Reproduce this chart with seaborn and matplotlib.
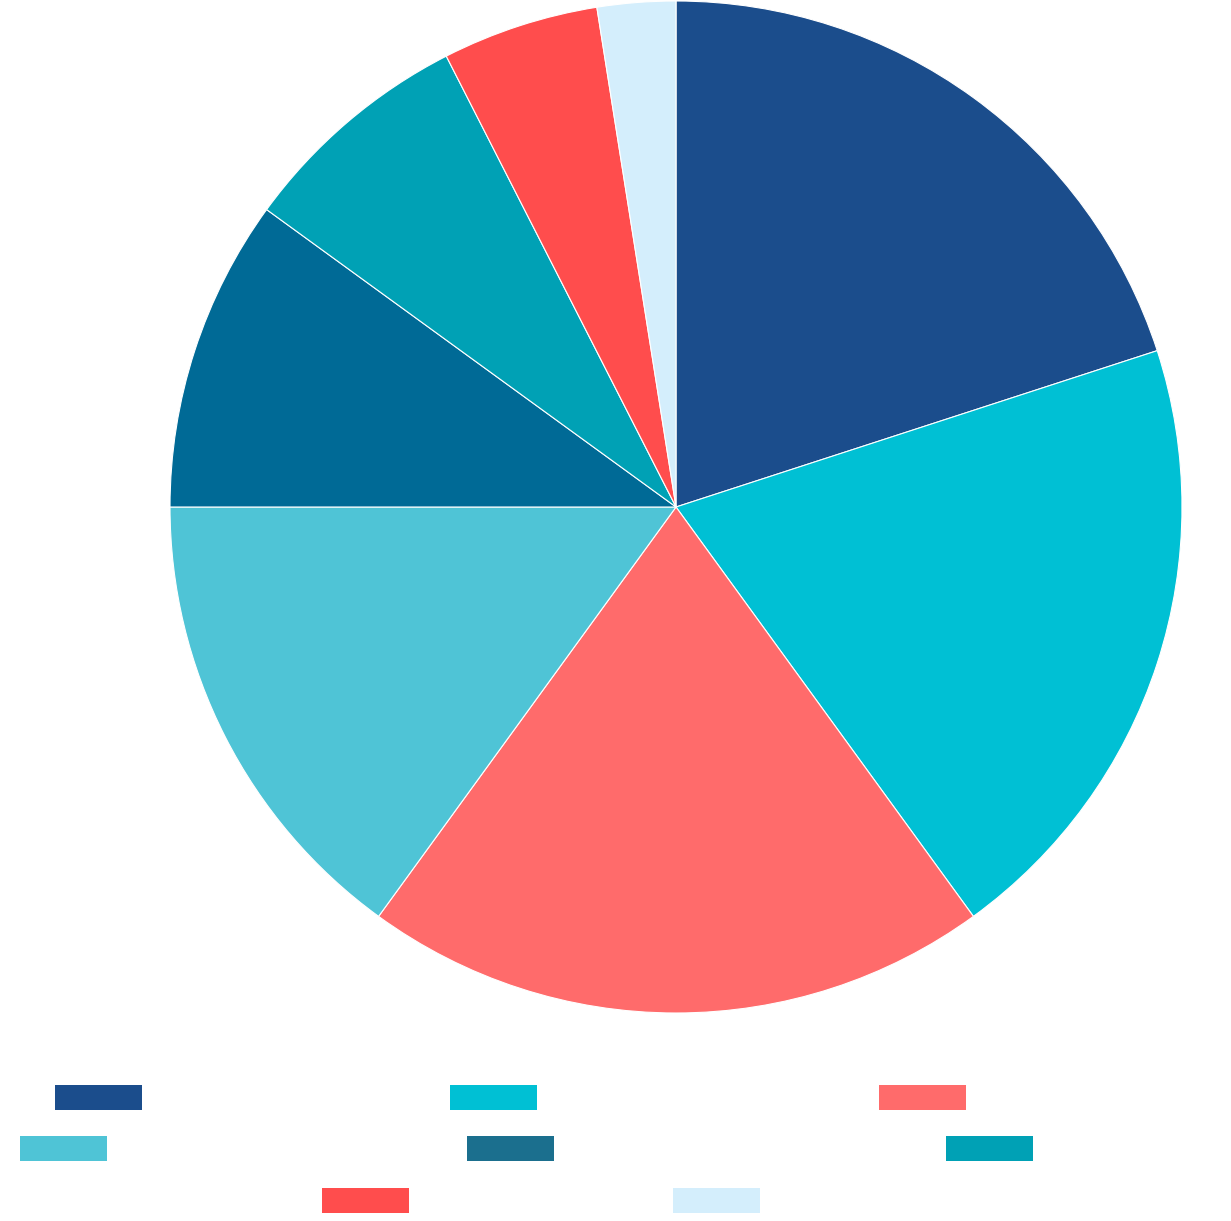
import matplotlib
matplotlib.use("Agg")
import matplotlib.pyplot as plt
import seaborn as sns
from matplotlib.patches import Rectangle

categories = ["Category A", "Category B", "Category C", "Category D",
              "Category E", "Category F", "Category G", "Category H"]
values = [20, 20, 20, 15, 10, 7.5, 5, 2.5]
colors = ["#1B4D8C", "#00C0D4", "#FF6B6B", "#4FC4D6",
          "#006A96", "#00A1B5", "#FF4D4D", "#D4EEFC"]
legend_colors = ["#1B4D8C", "#00C0D4", "#FF6B6B", "#4FC4D6",
                 "#1B6F8E", "#00A1B5", "#FF4D4D", "#D4EEFC"]

sns.set_theme(style="white")
W, H = 1231, 1221
fig = plt.figure(figsize=(W/100, H/100), dpi=100)
fig.patch.set_facecolor("white")

ax = fig.add_axes([170/W, (H-1013)/H, 1012/W, 1012/H])
ax.pie(values, colors=colors, startangle=90, counterclock=False, radius=1,
       wedgeprops=dict(edgecolor="white", linewidth=0.8))
ax.set_xlim(-1, 1); ax.set_ylim(-1, 1)
ax.set_aspect("equal")
ax.axis("off")

# legend swatches (labels in white, as in the reference)
pos = [(55, 1097), (450, 1097), (879, 1097),
       (20, 1148), (467, 1148), (946, 1148),
       (322, 1200), (673, 1200)]
for (x, y), c, lab in zip(pos, legend_colors, categories):
    fig.patches.append(Rectangle((x/W, (H-y-12.5)/H), 87/W, 25/H,
                                 transform=fig.transFigure, facecolor=c,
                                 edgecolor="none"))
    fig.text((x+97)/W, (H-y)/H, lab, color="white", va="center",
             ha="left", fontsize=14)

fig.savefig("out.png", dpi=100, facecolor="white")
